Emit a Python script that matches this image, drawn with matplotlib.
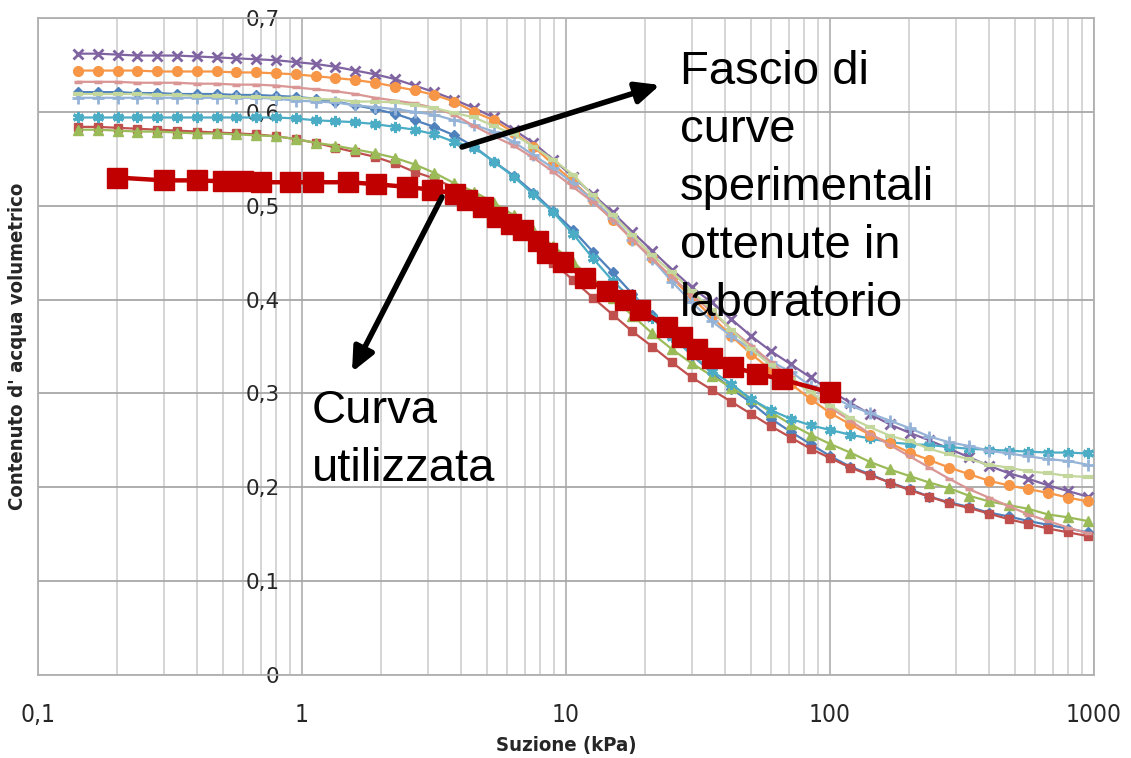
import matplotlib
matplotlib.use('Agg')
import matplotlib.pyplot as plt
from matplotlib import font_manager
from matplotlib.ticker import FixedLocator, LogLocator, NullFormatter, FixedFormatter

# suzione (kPa) comune alle curve sperimentali
suzione = [0.1417, 0.1684, 0.2002, 0.2379, 0.2828, 0.3361, 0.3995, 0.4748, 0.5643, 0.6707,
           0.7971, 0.9474, 1.126, 1.338, 1.591, 1.891, 2.247, 2.671, 3.174, 3.773,
           4.484, 5.329, 6.334, 7.528, 8.947, 10.63, 12.64, 15.02, 17.85, 21.22,
           25.22, 29.97, 35.62, 42.34, 50.32, 59.80, 71.08, 84.48, 100.4, 119.3,
           141.8, 168.5, 200.3, 238.0, 282.9, 336.2, 399.6, 474.9, 564.4, 670.8,
           797.3, 947.6]

blu = [0.621, 0.621, 0.621, 0.620, 0.620, 0.619, 0.619, 0.619, 0.618, 0.618, 0.617,
       0.616, 0.614, 0.611, 0.607, 0.603, 0.598, 0.591, 0.584, 0.575, 0.563, 0.547, 0.532,
       0.514, 0.494, 0.474, 0.451, 0.429,
       0.406, 0.384, 0.362, 0.341, 0.322, 0.305, 0.290, 0.273, 0.259, 0.246, 0.233, 0.222,
       0.214, 0.205, 0.198, 0.190, 0.184, 0.179, 0.173, 0.169, 0.164, 0.160, 0.156, 0.152]
rosso = [0.584, 0.584, 0.583, 0.582, 0.581, 0.580, 0.579, 0.578, 0.577, 0.576, 0.574,
         0.571, 0.567, 0.562, 0.557, 0.552, 0.545, 0.536, 0.529, 0.519,
         0.506, 0.493, 0.477, 0.459, 0.439, 0.421, 0.402, 0.384, 0.366, 0.350, 0.333, 0.317,
         0.304, 0.291, 0.278, 0.265, 0.253, 0.241, 0.231, 0.221, 0.213, 0.205, 0.197, 0.190,
         0.183, 0.178, 0.172, 0.166, 0.161, 0.156, 0.152, 0.148]
verde = [0.581, 0.581, 0.580, 0.579, 0.579, 0.578, 0.577, 0.577, 0.576, 0.575, 0.574,
         0.571, 0.567, 0.564, 0.560, 0.556, 0.551, 0.544, 0.535, 0.524, 0.515,
         0.503, 0.490, 0.474, 0.457, 0.440, 0.421, 0.402, 0.383, 0.364, 0.347, 0.332, 0.319,
         0.306, 0.294, 0.280, 0.267, 0.256, 0.246, 0.237, 0.227, 0.219, 0.212, 0.205, 0.199,
         0.191, 0.185, 0.181, 0.177, 0.171, 0.168, 0.164]
viola = [0.662, 0.662, 0.661, 0.660, 0.660, 0.660, 0.659, 0.658, 0.657, 0.656, 0.655,
         0.653, 0.651, 0.648, 0.644, 0.640, 0.635, 0.628,
         0.621, 0.613, 0.604, 0.594, 0.581, 0.567, 0.549, 0.531, 0.512, 0.493, 0.472, 0.452,
         0.432, 0.413, 0.397, 0.379,
         0.361, 0.345, 0.331, 0.317, 0.303, 0.290, 0.278, 0.267,
         0.258, 0.250, 0.241, 0.232, 0.223, 0.215, 0.209, 0.202, 0.196, 0.190]
azzurro = [0.594, 0.594, 0.594, 0.594, 0.594, 0.594, 0.594, 0.594, 0.594, 0.594, 0.594,
           0.593, 0.591, 0.590, 0.589, 0.587, 0.584, 0.581, 0.576, 0.568,
           0.562, 0.547, 0.531, 0.512, 0.493, 0.470, 0.444,
           0.420, 0.400, 0.380, 0.360, 0.341, 0.324, 0.310, 0.294, 0.282, 0.273, 0.266, 0.261,
           0.256, 0.252, 0.248, 0.246, 0.245, 0.243, 0.241, 0.240, 0.239, 0.238, 0.237, 0.237,
           0.236]
arancio = [0.644, 0.644, 0.644, 0.644, 0.643, 0.643, 0.643, 0.643, 0.642, 0.642, 0.641,
           0.640, 0.638, 0.636, 0.634, 0.631, 0.627, 0.623,
           0.618, 0.611, 0.600, 0.591, 0.578, 0.563, 0.544, 0.526, 0.506, 0.485, 0.464, 0.444,
           0.423,
           0.402, 0.382, 0.361, 0.342, 0.325, 0.310, 0.294, 0.279, 0.267, 0.256, 0.247, 0.237,
           0.229, 0.221, 0.214, 0.207, 0.202, 0.198, 0.194, 0.189, 0.185]
celeste = [0.615, 0.615, 0.615, 0.615, 0.615, 0.615, 0.615, 0.615, 0.615, 0.615,
           0.614, 0.612, 0.611, 0.610, 0.607, 0.605, 0.603, 0.600, 0.597, 0.591, 0.586, 0.579,
           0.568, 0.554, 0.540, 0.524, 0.506, 0.487, 0.464, 0.443, 0.419,
           0.397, 0.377, 0.361, 0.347, 0.334, 0.323, 0.308, 0.297, 0.287, 0.279, 0.271, 0.263,
           0.254, 0.248, 0.244, 0.239, 0.236, 0.233, 0.230, 0.228, 0.224]
rosa = [0.632, 0.632, 0.632, 0.631, 0.631, 0.631, 0.630, 0.630, 0.629, 0.629, 0.628,
        0.626, 0.624, 0.622, 0.619, 0.615, 0.612, 0.609, 0.604, 0.597,
        0.585, 0.574, 0.564, 0.551, 0.536, 0.520, 0.504, 0.485, 0.464, 0.443, 0.424,
        0.405, 0.387, 0.368, 0.351, 0.333, 0.317, 0.301, 0.285, 0.271, 0.257, 0.245, 0.233,
        0.221, 0.209, 0.198, 0.189, 0.180, 0.171, 0.164, 0.157, 0.151]
verde_chiaro = [0.619, 0.619, 0.619, 0.619, 0.618, 0.618, 0.617, 0.617, 0.616, 0.616, 0.615,
                0.615, 0.614,
                0.613, 0.611, 0.611, 0.610, 0.607, 0.604, 0.599, 0.594, 0.585, 0.576, 0.563,
                0.549, 0.533, 0.511, 0.490, 0.469, 0.447, 0.429,
                0.409, 0.389, 0.368, 0.347, 0.330, 0.315, 0.301, 0.287, 0.274, 0.264, 0.255,
                0.249, 0.241, 0.235, 0.230, 0.224, 0.221, 0.217, 0.215, 0.212, 0.211]

# curva utilizzata
curva_x = [0.2, 0.3, 0.4, 0.5, 0.6, 0.7, 0.9, 1.1, 1.5, 1.9, 2.5, 3.1, 3.8, 4.2, 4.85, 5.5,
           6.2, 6.9, 7.8, 8.5, 9.7, 11.8, 14.3, 16.7, 19.1, 24.1, 27.5, 31.3, 35.7, 42.9,
           52.9, 65.8, 100]
curva_y = [0.530, 0.527, 0.527, 0.526, 0.526, 0.525, 0.525, 0.525, 0.525, 0.523, 0.520,
           0.517, 0.513, 0.506, 0.499, 0.488, 0.480, 0.474, 0.462, 0.450, 0.440, 0.423,
           0.409, 0.400, 0.389, 0.371, 0.360, 0.347, 0.338, 0.328, 0.321, 0.315, 0.301]

y_ticks = [0, 0.1, 0.2, 0.3, 0.4, 0.5, 0.6, 0.7]
y_labels = ['0', '0,1', '0,2', '0,3', '0,4', '0,5', '0,6', '0,7']
x_ticks = [0.1, 1, 10, 100, 1000]
x_labels = ['0,1', '1', '10', '100', '1000']

# font stretto se c'e', altrimenti DejaVu piu' piccolo
fonts = font_manager.fontManager.ttflist
if any(f.name == 'Liberation Sans Narrow' for f in fonts):
    narrow = dict(family='Liberation Sans Narrow')
    k = 1.0
elif any(f.name.startswith('DejaVu Sans') and f.stretch == 'condensed' for f in fonts):
    narrow = dict(family='DejaVu Sans', stretch='condensed')
    k = 0.9
else:
    narrow = dict(family='DejaVu Sans')
    k = 0.75

W, H = 1131, 758
fig = plt.figure(figsize=(W / 100, H / 100), dpi=100)
ax = fig.add_axes([38 / W, 1 - 675 / H, (1094 - 38) / W, (675 - 18) / H])

serie = [
    (blu, '#4F81BD', 'D', 5.5, 1),
    (rosso, '#C0504D', 's', 5.5, 1),
    (verde, '#9BBB59', '^', 6.5, 1),
    (viola, '#8064A2', 'x', 6.5, 2),
    (azzurro, '#4BACC6', (6, 2, 0), 8, 2.2),
    (arancio, '#F79646', 'o', 7, 1),
    (celeste, '#95B3D7', '+', 8, 2),
    (rosa, '#D99694', '_', 6, 2.5),
    (verde_chiaro, '#C3D69B', '_', 7, 3),
]
for yy, col, mk, ms, mew in serie:
    ax.plot(suzione, yy, color=col, lw=1.6, marker=mk, ms=ms, mew=mew,
            mec=col, mfc=col, zorder=3)

ax.plot(curva_x, curva_y, color='#C00000', lw=3.2, marker='s', ms=15,
        mec='#C00000', mfc='#C00000', zorder=5)

ax.set_xscale('log')
ax.set_xlim(0.1, 1000)
ax.set_ylim(0, 0.7)
ax.xaxis.set_major_locator(FixedLocator(x_ticks))
ax.xaxis.set_major_formatter(FixedFormatter(x_labels))
ax.xaxis.set_minor_locator(LogLocator(base=10, subs=range(2, 10)))
ax.xaxis.set_minor_formatter(NullFormatter())
ax.set_yticks(y_ticks)
ax.set_yticklabels(y_labels)

ax.grid(which='major', axis='x', color='#B4B4B4', lw=1.3)
ax.grid(which='minor', axis='x', color='#D2D2D2', lw=1.3)
ax.grid(which='major', axis='y', color='#A8A8A8', lw=1.3)
ax.set_axisbelow(True)
for s in ax.spines.values():
    s.set_color('#B0B0B0')
    s.set_linewidth(1.3)

ax.tick_params(axis='y', length=0, pad=-174, labelsize=15.5, labelcolor='#262626')
ax.tick_params(axis='x', which='both', length=0, pad=20, labelcolor='#262626')
plt.setp(ax.get_xticklabels(), fontsize=19.5 * k, **narrow)

ax.set_xlabel('Suzione (kPa)', fontsize=16.2 * k, fontweight='bold', color='#262626',
              va='center', **narrow)
ax.xaxis.set_label_coords(0.5, (675 - 745) / (675 - 18))
ax.set_ylabel("Contenuto d' acqua volumetrico", fontsize=16.2 * k, fontweight='bold',
              color='#262626', va='center', **narrow)
ax.yaxis.set_label_coords((18 - 38) / (1094 - 38), 0.5)

# testi e frecce
fig.text(680 / W, 1 - 50 / H, "Fascio di\ncurve\nsperimentali\nottenute in\nlaboratorio",
         fontsize=34, family=['Liberation Sans', 'DejaVu Sans'], va='top', ha='left',
         linespacing=1.41)
fig.text(312 / W, 1 - 389 / H, "Curva\nutilizzata",
         fontsize=34, family=['Liberation Sans', 'DejaVu Sans'], va='top', ha='left',
         linespacing=1.41)

frecce = [((462, 147), (660, 85)), ((442, 197), (352, 372))]
for (x0, y0), (x1, y1) in frecce:
    ax.annotate('', xy=(x1 / W, 1 - y1 / H), xytext=(x0 / W, 1 - y0 / H),
                xycoords='figure fraction', textcoords='figure fraction',
                arrowprops=dict(arrowstyle='-|>,head_length=1.1,head_width=0.5',
                                lw=4, color='black', shrinkA=0, shrinkB=0,
                                mutation_scale=13),
                annotation_clip=False, zorder=10)

fig.savefig('out.png', dpi=100)
